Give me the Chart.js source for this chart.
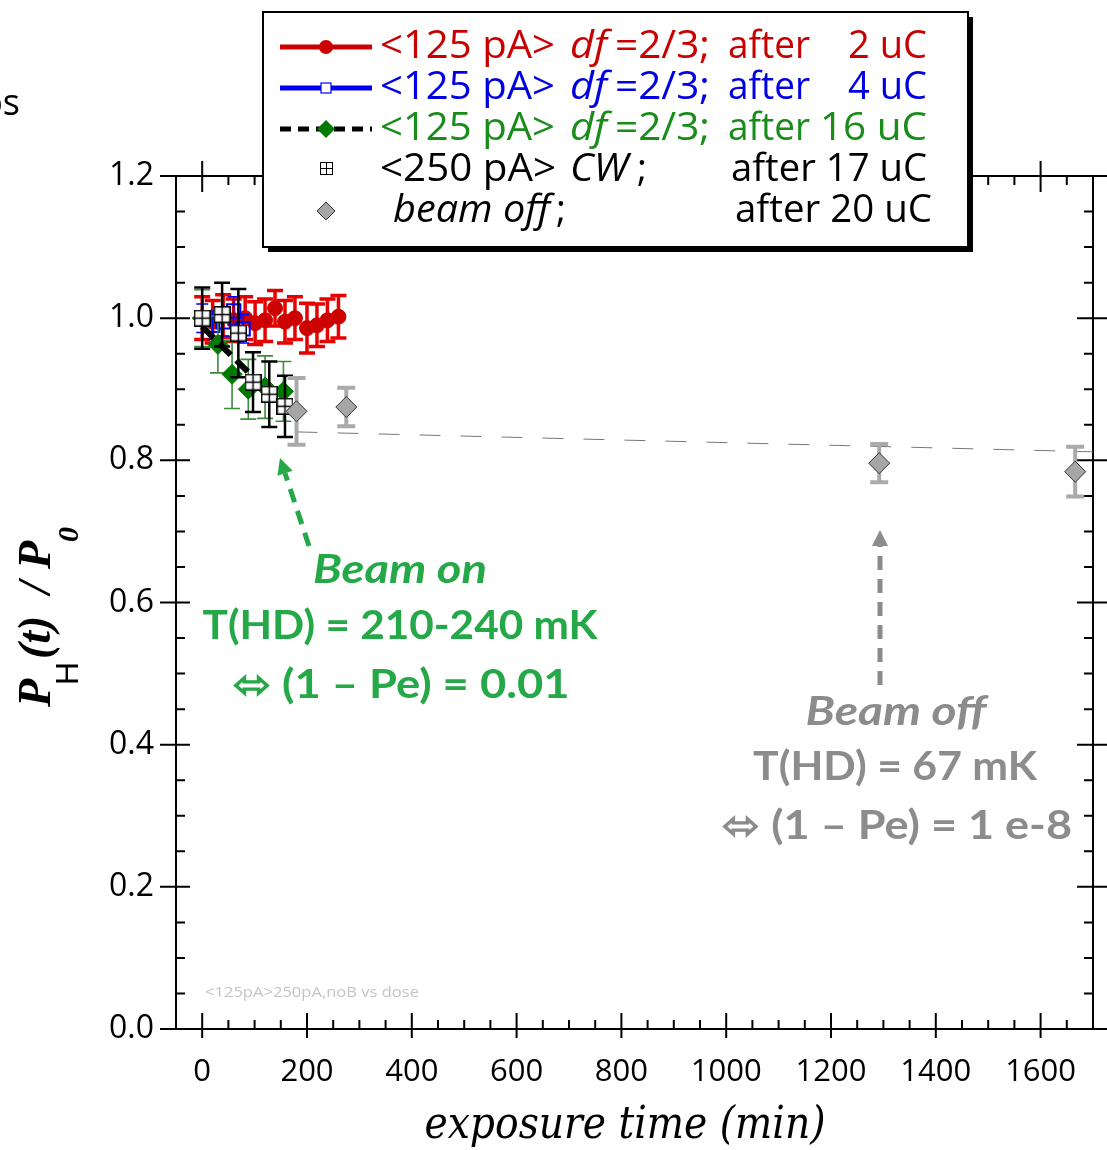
<!DOCTYPE html>
<html>
<head>
<meta charset="utf-8">
<script src="https://cdn.jsdelivr.net/npm/chart.js@4.4.0/dist/chart.umd.min.js"></script>
<style>
  html, body { margin: 0; padding: 0; background: #fff; }
</style>
</head>
<body>
<canvas id="chart" width="1107" height="1150"></canvas>
<script>
// --- data ---
const redX = [0, 20, 40, 60, 82, 101, 120, 139, 158, 177, 200, 219, 239, 260];
const redY = [1.0, 0.995, 1.003, 0.997, 1.0, 0.993, 0.997, 1.014, 0.995, 1.0, 0.986, 0.99, 0.997, 1.002];
const redErr = [0.03, 0.03, 0.03, 0.03, 0.03, 0.03, 0.03, 0.025, 0.03, 0.03, 0.035, 0.03, 0.03, 0.03];

const blueX = [0, 20, 40, 60, 78];
const blueY = [1.0, 0.99, 0.995, 1.01, 0.985];
const blueErr = [0.02, 0.02, 0.02, 0.02, 0.02];

const greenX = [0, 30, 57, 88, 120, 155];
const greenY = [1.0, 0.963, 0.921, 0.9, 0.903, 0.897];
const greenErr = [0.04, 0.04, 0.048, 0.042, 0.044, 0.042];

const fitOnX = [0, 95];
const fitOnY = [0.988, 0.919];

const cwX = [0, 38, 69, 97, 128, 158];
const cwY = [1.0, 1.005, 0.979, 0.91, 0.893, 0.876];
const cwErr = [0.043, 0.045, 0.062, 0.042, 0.046, 0.043];

const offX = [180, 275, 1292, 1666];
const offY = [0.869, 0.875, 0.796, 0.784];
const offErr = [0.047, 0.027, 0.027, 0.035];

const fitOffX = [180, 1700];
const fitOffY = [0.84, 0.812];

const xTickVals = [0, 200, 400, 600, 800, 1000, 1200, 1400, 1600];
const yTickVals = [0, 0.2, 0.4, 0.6, 0.8, 1.0, 1.2];

const GREEN_TXT = "#25a847";
const GRAY_TXT = "#8c8c8c";

function pts(xs, ys) {
  return xs.map((x, i) => ({ x: x, y: ys[i] }));
}

// square with a cross, used for the CW points
function crossBox(size, lw) {
  const c = document.createElement("canvas");
  c.width = size; c.height = size;
  const g = c.getContext("2d");
  g.fillStyle = "#fff";
  g.fillRect(0, 0, size, size);
  g.strokeStyle = "#000";
  g.lineWidth = lw;
  g.strokeRect(lw / 2, lw / 2, size - lw, size - lw);
  g.beginPath();
  g.moveTo(size / 2, 0); g.lineTo(size / 2, size);
  g.moveTo(0, size / 2); g.lineTo(size, size / 2);
  g.stroke();
  return c;
}
const cwIcon = crossBox(17, 1.5);
const cwIconSmall = crossBox(13, 1);

// error bars, drawn just before each dataset
const errorBars = {
  id: "errorBars",
  beforeDatasetDraw(chart, args) {
    const ds = chart.data.datasets[args.index];
    if (!ds.errors) return;
    const { ctx, scales } = chart;
    const st = ds.errStyle;
    ctx.save();
    ctx.strokeStyle = st.color;
    ctx.lineWidth = st.width;
    ds.data.forEach((p, i) => {
      const x = scales.x.getPixelForValue(p.x);
      const y1 = scales.y.getPixelForValue(p.y + ds.errors[i]);
      const y2 = scales.y.getPixelForValue(p.y - ds.errors[i]);
      ctx.beginPath();
      ctx.moveTo(x, y1); ctx.lineTo(x, y2);
      ctx.moveTo(x - st.cap, y1); ctx.lineTo(x + st.cap, y1);
      ctx.moveTo(x - st.cap, y2); ctx.lineTo(x + st.cap, y2);
      ctx.stroke();
    });
    ctx.restore();
  }
};

// box frame with in/out ticks
const frame = {
  id: "frame",
  beforeDatasetsDraw(chart) {
    const { ctx, chartArea: a, scales } = chart;
    ctx.save();
    ctx.strokeStyle = "#000";
    ctx.lineWidth = 2;
    ctx.strokeRect(a.left, a.top, a.right - a.left, a.bottom - a.top);
    ctx.beginPath();
    for (let v = 0; v <= 1700; v += 50) {
      const x = scales.x.getPixelForValue(v);
      if (v % 200 === 0) {
        ctx.moveTo(x, a.bottom - 16); ctx.lineTo(x, a.bottom + 9);
        ctx.moveTo(x, a.top - 15); ctx.lineTo(x, a.top + 16);
      } else {
        ctx.moveTo(x, a.bottom - 9); ctx.lineTo(x, a.bottom);
        ctx.moveTo(x, a.top); ctx.lineTo(x, a.top + 9);
      }
    }
    for (let k = 0; k <= 24; k++) {
      const y = scales.y.getPixelForValue(k * 0.05);
      if (k % 4 === 0) {
        ctx.moveTo(a.left - 16, y); ctx.lineTo(a.left + 14, y);
        ctx.moveTo(a.right - 16, y); ctx.lineTo(a.right + 14, y);
      } else {
        ctx.moveTo(a.left, y); ctx.lineTo(a.left + 9, y);
        ctx.moveTo(a.right - 9, y); ctx.lineTo(a.right, y);
      }
    }
    ctx.stroke();
    ctx.restore();
  }
};

function fitText(ctx, txt, x, y, w, align) {
  const m = ctx.measureText(txt).width;
  ctx.save();
  ctx.translate(x, y);
  ctx.scale(w / m, 1);
  ctx.textAlign = align || "left";
  ctx.fillText(txt, 0, 0);
  ctx.restore();
}

function diamond(ctx, x, y, r, fill, stroke) {
  ctx.beginPath();
  ctx.moveTo(x, y - r); ctx.lineTo(x + r, y); ctx.lineTo(x, y + r); ctx.lineTo(x - r, y);
  ctx.closePath();
  ctx.fillStyle = fill; ctx.fill();
  if (stroke) { ctx.strokeStyle = stroke; ctx.lineWidth = 1; ctx.stroke(); }
}

function dashedArrow(ctx, x1, y1, x2, y2, color) {
  const ang = Math.atan2(y2 - y1, x2 - x1);
  const hl = 16, hw = 8;
  const bx = x2 - Math.cos(ang) * hl, by = y2 - Math.sin(ang) * hl;
  ctx.save();
  ctx.strokeStyle = color;
  ctx.fillStyle = color;
  ctx.lineWidth = 5;
  ctx.setLineDash([14, 9]);
  ctx.beginPath(); ctx.moveTo(x1, y1); ctx.lineTo(bx, by); ctx.stroke();
  ctx.setLineDash([]);
  ctx.beginPath();
  ctx.moveTo(x2, y2);
  ctx.lineTo(bx + Math.sin(ang) * hw, by - Math.cos(ang) * hw);
  ctx.lineTo(bx - Math.sin(ang) * hw, by + Math.cos(ang) * hw);
  ctx.closePath(); ctx.fill();
  ctx.restore();
}

// legend, notes and axis titles
const overlay = {
  id: "overlay",
  afterDraw(chart) {
    const ctx = chart.ctx;
    ctx.save();
    ctx.textBaseline = "middle";

    // stray text at top left
    ctx.fillStyle = "#000";
    ctx.font = "36px 'Open Sans'";
    ctx.textAlign = "right";
    ctx.fillText("os", 20, 105);

    // legend box with shadow
    ctx.fillStyle = "#000";
    ctx.fillRect(268, 17, 705, 235);
    ctx.fillStyle = "#fff";
    ctx.fillRect(263, 12, 705, 235);
    ctx.strokeStyle = "#000";
    ctx.lineWidth = 2;
    ctx.strokeRect(263, 12, 705, 235);

    const rows = [47, 88, 129, 170, 211];
    // sample lines
    ctx.lineWidth = 5;
    ctx.strokeStyle = "#cc0000";
    ctx.beginPath(); ctx.moveTo(280, rows[0]); ctx.lineTo(372, rows[0]); ctx.stroke();
    ctx.fillStyle = "#cc0000";
    ctx.beginPath(); ctx.arc(326, rows[0], 7, 0, Math.PI * 2); ctx.fill();
    ctx.strokeStyle = "#0000ee";
    ctx.beginPath(); ctx.moveTo(280, rows[1]); ctx.lineTo(372, rows[1]); ctx.stroke();
    ctx.fillStyle = "#fff";
    ctx.fillRect(321, rows[1] - 5, 10, 10);
    ctx.lineWidth = 1.2;
    ctx.strokeRect(321, rows[1] - 5, 10, 10);
    ctx.lineWidth = 5;
    ctx.strokeStyle = "#000";
    ctx.setLineDash([11, 7]);
    ctx.beginPath(); ctx.moveTo(280, rows[2]); ctx.lineTo(372, rows[2]); ctx.stroke();
    ctx.setLineDash([]);
    diamond(ctx, 326, rows[2], 9, "#007a00");
    ctx.drawImage(cwIconSmall, 320, rows[3] - 8);
    diamond(ctx, 326, rows[4], 9, "#a6a6a6", "#333");

    const cols = ["#c80000", "#0000e0", "#1a8c1a"];
    const amounts = ["2 uC", "4 uC", "16 uC"];
    for (let i = 0; i < 3; i++) {
      ctx.fillStyle = cols[i];
      ctx.font = "38px 'Open Sans'";
      fitText(ctx, "<125 pA>", 380, rows[i], 175);
      ctx.font = "italic 38px 'Open Sans'";
      fitText(ctx, "df", 570, rows[i], 37);
      ctx.font = "38px 'Open Sans'";
      fitText(ctx, "=2/3;", 615, rows[i], 95);
      fitText(ctx, "after", 728, rows[i], 82);
      fitText(ctx, amounts[i], 927, rows[i], i === 2 ? 107 : 79, "right");
    }
    ctx.fillStyle = "#000";
    ctx.font = "38px 'Open Sans'";
    fitText(ctx, "<250 pA>", 380, rows[3], 176);
    ctx.font = "italic 38px 'Open Sans'";
    fitText(ctx, "CW", 570, rows[3], 58);
    fitText(ctx, "beam off", 393, rows[4], 157);
    ctx.font = "38px 'Open Sans'";
    ctx.textAlign = "left";
    ctx.fillText(";", 637, rows[3]);
    ctx.fillText(";", 556, rows[4]);
    fitText(ctx, "after 17 uC", 927, rows[3], 196, "right");
    fitText(ctx, "after 20 uC", 932, rows[4], 197, "right");

    // faint tag
    ctx.fillStyle = "#c4c4c4";
    ctx.font = "15px 'Open Sans'";
    fitText(ctx, "<125pA>250pA,noB vs dose", 205, 993, 214);

    // beam on note
    dashedArrow(ctx, 309, 546, 280, 458, GREEN_TXT);
    ctx.fillStyle = GREEN_TXT;
    ctx.font = "italic bold 40px Lato";
    fitText(ctx, "Beam on", 400, 570, 174, "center");
    ctx.font = "bold 40px Lato";
    fitText(ctx, "T(HD) = 210-240 mK", 400, 626, 395, "center");
    fitText(ctx, "\u2B04 (1 \u2013 Pe) = 0.01", 401, 685, 337, "center");

    // beam off note
    dashedArrow(ctx, 880, 685, 880, 530, GRAY_TXT);
    ctx.fillStyle = GRAY_TXT;
    ctx.font = "italic bold 40px Lato";
    fitText(ctx, "Beam off", 896, 712, 181, "center");
    ctx.font = "bold 40px Lato";
    fitText(ctx, "T(HD) = 67 mK", 895, 767, 284, "center");
    fitText(ctx, "\u2B04 (1 \u2013 Pe) = 1 e-8", 897, 826, 350, "center");

    // x title
    ctx.fillStyle = "#000";
    ctx.font = "italic 44px 'DejaVu Serif'";
    ctx.textBaseline = "alphabetic";
    fitText(ctx, "exposure time (min)", 625, 1138, 401, "center");

    // y title, rotated
    ctx.save();
    ctx.translate(50, 707);
    ctx.rotate(-Math.PI / 2);
    ctx.textAlign = "left";
    ctx.textBaseline = "alphabetic";
    ctx.font = "italic bold 46px 'Liberation Serif'";
    ctx.fillText("P", 0, 0);
    ctx.font = "32px 'Liberation Sans'";
    ctx.fillText("H", 22, 28);
    ctx.font = "italic bold 46px 'Liberation Serif'";
    ctx.fillText("(t)", 48, 0);
    ctx.fillText("/", 113, 0);
    ctx.fillText("P", 138, 0);
    ctx.font = "italic bold 30px 'Liberation Serif'";
    ctx.fillText("0", 165, 28);
    ctx.restore();

    ctx.restore();
  }
};

const config = {
  type: "scatter",
  data: {
    datasets: [
      {
        label: "2 uC",
        data: pts(redX, redY),
        errors: redErr,
        errStyle: { color: "#e60000", width: 3.5, cap: 8 },
        pointStyle: "circle",
        pointRadius: 7.5,
        backgroundColor: "#cc0000",
        borderColor: "#cc0000",
        borderWidth: 1,
        order: 7,
      },
      {
        label: "4 uC",
        data: pts(blueX, blueY),
        errors: blueErr,
        errStyle: { color: "#0000ff", width: 1.5, cap: 6 },
        pointStyle: "rect",
        pointRadius: 9.5,
        backgroundColor: "rgba(255,255,255,0)",
        borderColor: "#0000ee",
        borderWidth: 2,
        order: 6,
      },
      {
        label: "16 uC",
        data: pts(greenX, greenY),
        errors: greenErr,
        errStyle: { color: "#3d8a3d", width: 1.6, cap: 8 },
        pointStyle: "rectRot",
        pointRadius: 10,
        backgroundColor: "#007a00",
        borderColor: "#007a00",
        borderWidth: 1,
        order: 5,
      },
      {
        label: "16 uC fit",
        data: pts(fitOnX, fitOnY),
        showLine: true,
        pointRadius: 0,
        borderColor: "#000",
        borderWidth: 6,
        borderDash: [16, 8],
        order: 4,
      },
      {
        label: "CW 17 uC",
        data: pts(cwX, cwY),
        errors: cwErr,
        errStyle: { color: "#000", width: 2.5, cap: 8 },
        pointStyle: cwIcon,
        order: 3,
      },
      {
        label: "beam off fit",
        data: pts(fitOffX, fitOffY),
        showLine: true,
        pointRadius: 0,
        borderColor: "#777",
        borderWidth: 1,
        borderDash: [21, 20],
        order: 2,
      },
      {
        label: "beam off",
        data: pts(offX, offY),
        errors: offErr,
        errStyle: { color: "#aaaaaa", width: 4, cap: 9 },
        pointStyle: "rectRot",
        pointRadius: 10.5,
        backgroundColor: "#a6a6a6",
        borderColor: "#333",
        borderWidth: 1,
        order: 1,
      },
    ],
  },
  options: {
    responsive: false,
    animation: false,
    events: [],
    layout: { padding: { left: 0, top: 176, right: 14, bottom: 0 } },
    plugins: {
      legend: { display: false },
      tooltip: { enabled: false },
    },
    scales: {
      x: {
        type: "linear",
        min: -50,
        max: 1700,
        grid: { display: false, drawTicks: false },
        border: { display: false },
        afterBuildTicks: (scale) => { scale.ticks = xTickVals.map((v) => ({ value: v })); },
        afterFit: (scale) => { scale.height = 121; },
        ticks: {
          padding: 25,
          color: "#000",
          font: { family: "'Open Sans'", size: 31 },
          callback: (v) => String(v),
        },
      },
      y: {
        type: "linear",
        min: 0,
        max: 1.2,
        grid: { display: false, drawTicks: false },
        border: { display: false },
        afterBuildTicks: (scale) => { scale.ticks = yTickVals.map((v) => ({ value: v })); },
        afterFit: (scale) => { scale.width = 176; },
        ticks: {
          padding: 22,
          color: "#000",
          font: { family: "'Open Sans'", size: 32 },
          callback: (v) => v.toFixed(1),
        },
      },
    },
  },
  plugins: [frame, errorBars, overlay],
};

const chart = new Chart(document.getElementById("chart"), config);
</script>
</body>
</html>
